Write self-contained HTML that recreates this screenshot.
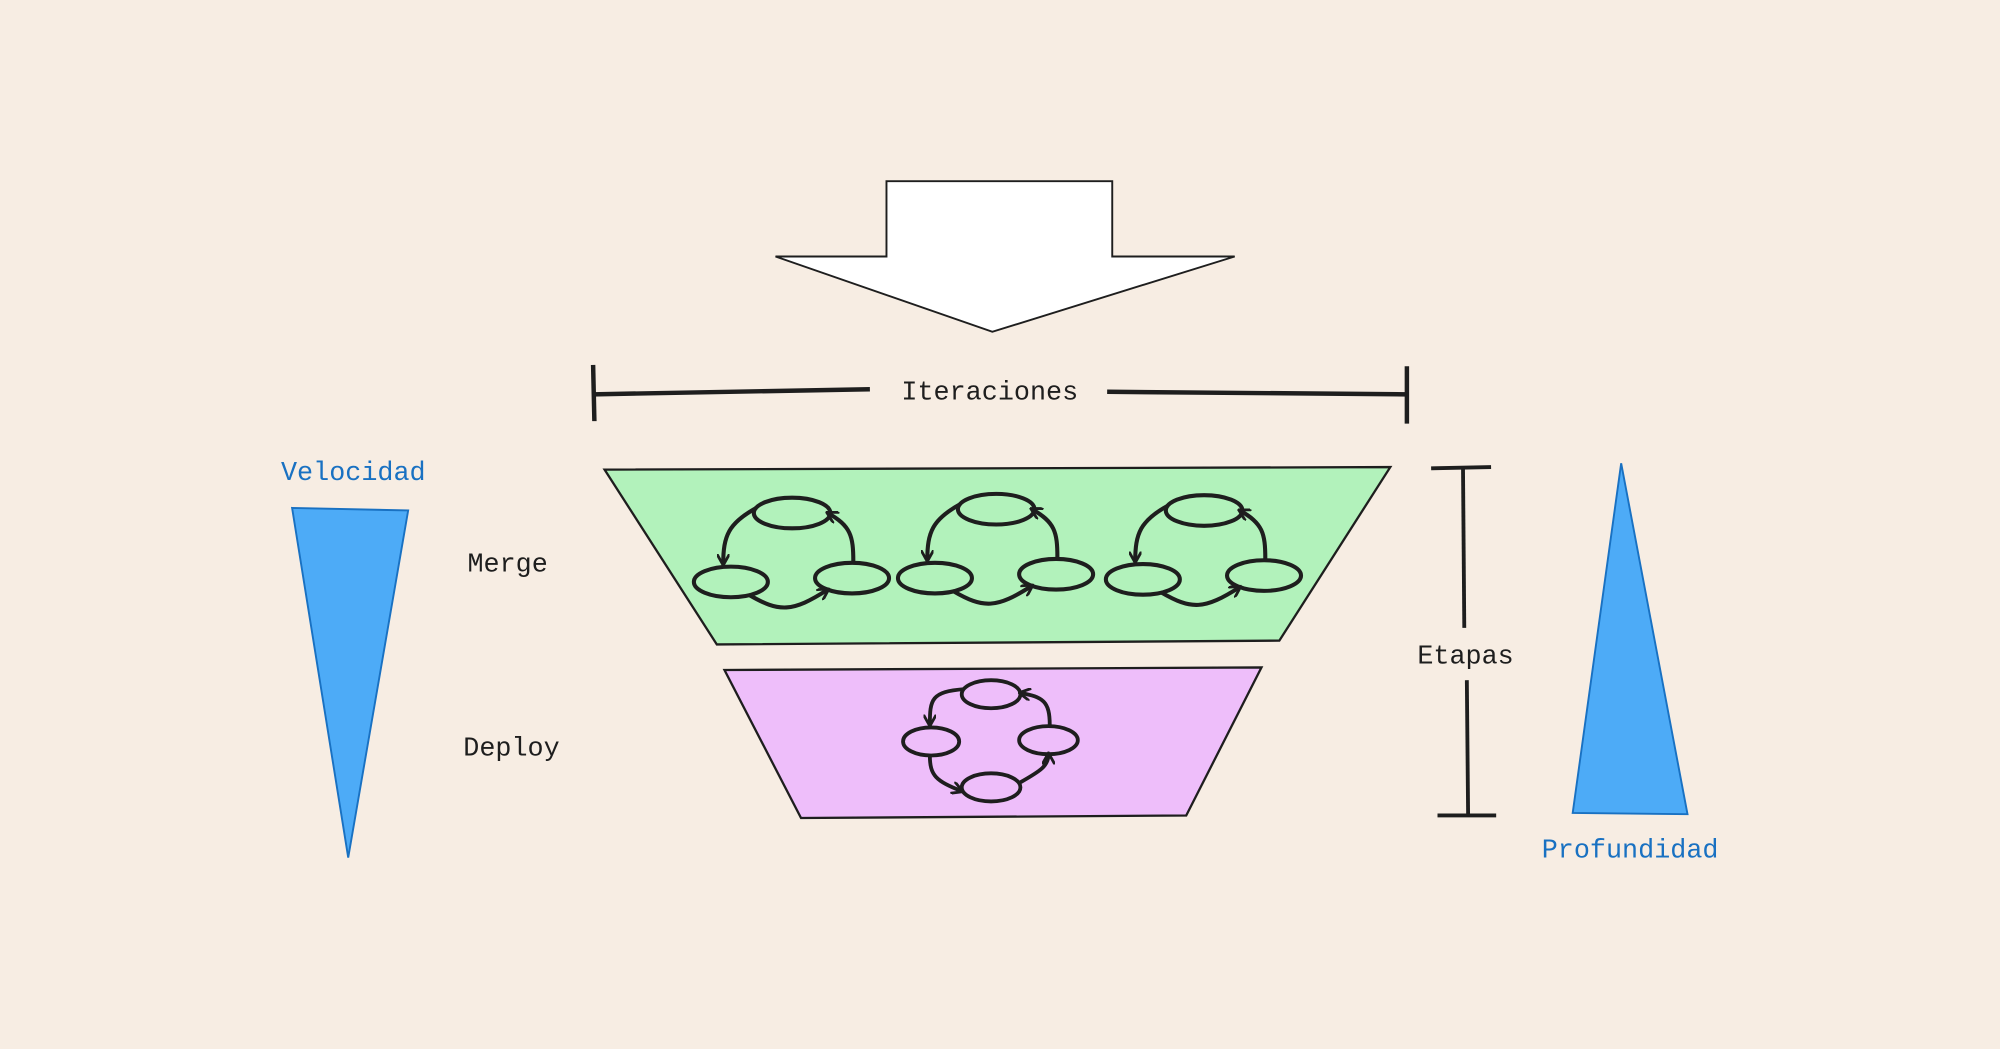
<!DOCTYPE html>
<html><head><meta charset="utf-8">
<style>
html,body{margin:0;padding:0;background:#f7ede3;}
svg{display:block;}
text{font-family:"Liberation Mono",monospace;font-size:21px;}
</style></head>
<body>
<svg width="2000" height="1049" viewBox="0 0 1568 822" preserveAspectRatio="none" xmlns="http://www.w3.org/2000/svg">
<defs>
<marker id="ah" markerWidth="10" markerHeight="10" refX="8" refY="5" orient="auto" markerUnits="userSpaceOnUse">
<path d="M0,0 L9,5 L0,10" fill="none" stroke="#1e1e1e" stroke-width="2.2"/>
</marker>
<g id="cyc" fill="none" stroke="#1e1e1e" stroke-width="3.2">
<ellipse cx="0" cy="0" rx="30" ry="12"/>
<ellipse cx="-48" cy="54" rx="29" ry="12"/>
<ellipse cx="47" cy="51" rx="29" ry="12"/>
<path d="M-28,-4 C-50,8 -54,18 -54,40" marker-end="url(#ah)"/>
<path d="M-34,64 C-10,78 0,78 28,60" marker-end="url(#ah)"/>
<path d="M48,38 C48,18 46,10 28,0" marker-end="url(#ah)"/>
</g>
</defs>
<rect width="1568" height="822" fill="#f7ede3"/>
<!-- big arrow -->
<path d="M695,142 L872,142 L872,201 L968,201 L778,260 L608,201 L695,201 Z" fill="#fff" stroke="#1e1e1e" stroke-width="1.5"/>
<!-- Iteraciones -->
<g stroke="#1e1e1e" stroke-width="3.5">
<line x1="465" y1="309" x2="682" y2="305"/>
<line x1="868" y1="307" x2="1103" y2="309"/>
<line x1="465" y1="286" x2="466" y2="330"/>
<line x1="1103" y1="287" x2="1103" y2="332"/>
</g>
<text x="776" y="313" text-anchor="middle" fill="#1e1e1e">Iteraciones</text>
<!-- Velocidad -->
<text x="277" y="376" text-anchor="middle" fill="#1971c2">Velocidad</text>
<path d="M229,398 L320,400 L273,672 Z" fill="#4dabf7" stroke="#1971c2" stroke-width="1.5"/>
<text x="398" y="448" text-anchor="middle" fill="#1e1e1e">Merge</text>
<text x="401" y="592" text-anchor="middle" fill="#1e1e1e">Deploy</text>
<!-- green -->
<path d="M474,368 L1090,366 L1003,502 L562,505 Z" fill="#b2f2bb" stroke="#1e1e1e" stroke-width="1.8"/>
<use href="#cyc" x="621" y="402"/>
<use href="#cyc" x="781" y="399"/>
<use href="#cyc" x="944" y="400"/>
<!-- pink -->
<path d="M568,525 L989,523 L930,639 L628,641 Z" fill="#eebefa" stroke="#1e1e1e" stroke-width="1.8"/>
<g fill="none" stroke="#1e1e1e" stroke-width="3">
<ellipse cx="777" cy="544" rx="23" ry="11"/>
<ellipse cx="730" cy="581" rx="22" ry="11"/>
<ellipse cx="822" cy="580" rx="23" ry="11"/>
<ellipse cx="777" cy="617" rx="23" ry="11"/>
<path d="M756,540 C730,542 729,548 729,568" marker-end="url(#ah)"/>
<path d="M729,592 C729,608 734,612 754,620" marker-end="url(#ah)"/>
<path d="M800,613 C816,604 822,600 822,591" marker-end="url(#ah)"/>
<path d="M823,568 C823,550 818,546 800,543" marker-end="url(#ah)"/>
</g>
<!-- Etapas -->
<g stroke="#1e1e1e" stroke-width="3">
<line x1="1147" y1="367" x2="1148" y2="492"/>
<line x1="1150" y1="533" x2="1151" y2="639"/>
<line x1="1122" y1="367" x2="1169" y2="366"/>
<line x1="1127" y1="639" x2="1173" y2="639"/>
</g>
<text x="1149" y="520" text-anchor="middle" fill="#1e1e1e">Etapas</text>
<!-- Profundidad -->
<path d="M1271,363 L1323,638 L1233,637 Z" fill="#4dabf7" stroke="#1971c2" stroke-width="1.5"/>
<text x="1278" y="672" text-anchor="middle" fill="#1971c2">Profundidad</text>
</svg>
</body></html>
